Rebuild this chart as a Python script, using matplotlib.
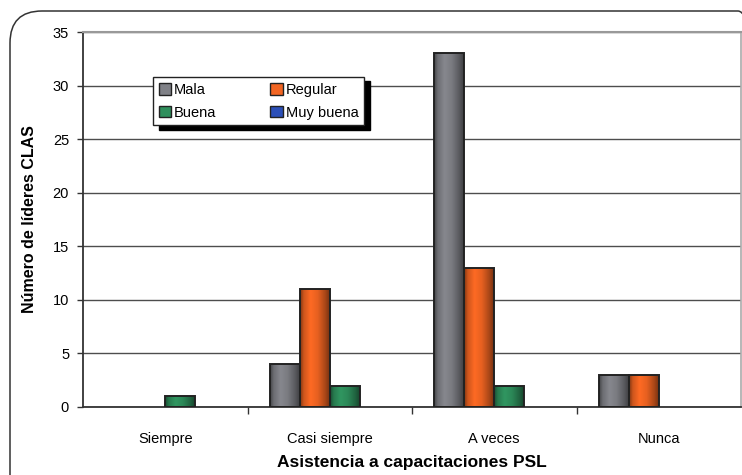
import numpy as np
import matplotlib.pyplot as plt
from matplotlib.patches import FancyBboxPatch, Patch
from matplotlib.transforms import IdentityTransform
from matplotlib.colors import to_rgb

plt.rcParams['font.family'] = ['Liberation Sans', 'DejaVu Sans']

# datos del grafico
categorias = ['Siempre', 'Casi siempre', 'A veces', 'Nunca']
series = ['Mala', 'Regular', 'Buena', 'Muy buena']
mala = [0, 4, 33, 3]
regular = [0, 11, 13, 3]
buena = [1, 2, 2, 0]
muy_buena = [0, 0, 0, 0]
colores = ['#808187', '#f26522', '#2e8f5c', '#2b4fb8']

valores = [mala, regular, buena, muy_buena]

fig = plt.figure(figsize=(7.42, 4.75), dpi=100)

# marco redondeado de toda la figura (en pixeles)
marco = FancyBboxPatch((10, -40), 760, 504,
                       boxstyle='round,pad=0,rounding_size=32',
                       transform=IdentityTransform(), facecolor='none',
                       edgecolor='#333333', linewidth=1.1)
fig.patches.append(marco)

ax = fig.add_axes([83 / 742, 1 - 407 / 475, 658 / 742, 375 / 475])

x = np.arange(len(categorias))
ancho = 0.182

# perfil de sombreado tipo cilindro
perfil_x = np.linspace(0, 1, 40)
perfil = np.interp(perfil_x, [0, 0.12, 0.35, 0.6, 0.85, 1], [0.55, 0.85, 1.05, 0.95, 0.7, 0.5])

for k, (vals, c) in enumerate(zip(valores, colores)):
    pos = x + (k - 1.5) * ancho
    base = np.array(to_rgb(c))
    img = np.clip(perfil[:, None] * base[None, :], 0, 1)[None, :, :]
    for p, v in zip(pos, vals):
        if v <= 0:
            continue
        b = ax.bar(p, v, width=ancho, color=c, linewidth=0, zorder=3)[0]
        im = ax.imshow(img, extent=[b.get_x(), b.get_x() + b.get_width(), 0, v],
                       aspect='auto', zorder=3.5, interpolation='bilinear')
        im.set_clip_path(b)
        ax.bar(p, v, width=ancho, color='none', edgecolor='#222222',
               linewidth=1.4, zorder=4)

ax.set_xlim(-0.5, 3.5)
ax.set_ylim(0, 35)
ax.set_yticks(range(0, 36, 5))
ax.yaxis.grid(True, color='#4d4d4d', linewidth=1.0, zorder=0)
ax.set_axisbelow(True)

ax.set_xticks(x)
ax.set_xticklabels(categorias, fontsize=10.5)
ax.tick_params(axis='x', length=0, pad=18)
ax.set_xticks([0.5, 1.5, 2.5], minor=True)
ax.tick_params(axis='x', which='minor', length=5, color='#333333', width=1)
ax.tick_params(axis='y', labelsize=10.5, length=4, color='#333333', width=1, pad=6)

for s in ['left', 'bottom']:
    ax.spines[s].set_color('#333333')
    ax.spines[s].set_linewidth(1.3)
ax.spines['top'].set_color('#999999')
ax.spines['top'].set_linewidth(1.5)
ax.spines['right'].set_color('#aaaaaa')
ax.spines['right'].set_linewidth(1.2)

ax.set_ylabel('Número de líderes CLAS', fontsize=11.5, fontweight='bold')
ax.yaxis.set_label_coords((37 - 83) / 658, 0.5)
ax.set_xlabel('Asistencia a capacitaciones PSL', fontsize=12.5, fontweight='bold')
ax.xaxis.set_label_coords(0.5, -(455 - 407) / 375)

# leyenda en dos columnas
manijas = [Patch(facecolor=colores[i], edgecolor='#222222', label=series[i]) for i in [0, 2, 1, 3]]
leg = ax.legend(handles=manijas, ncol=2, loc='upper left',
                bbox_to_anchor=(153 / 742, 1 - 77 / 475), bbox_transform=fig.transFigure,
                fontsize=10.5, frameon=True, fancybox=False, edgecolor='#222222',
                shadow={'ox': 4, 'oy': -3, 'color': 'black', 'alpha': 1},
                handlelength=0.85, handleheight=0.85, handletextpad=0.2,
                columnspacing=3.7, borderpad=0.4, labelspacing=0.6, borderaxespad=0)
leg.get_frame().set_linewidth(1.0)
leg.set_zorder(10)

plt.savefig('out.png', dpi=100)
